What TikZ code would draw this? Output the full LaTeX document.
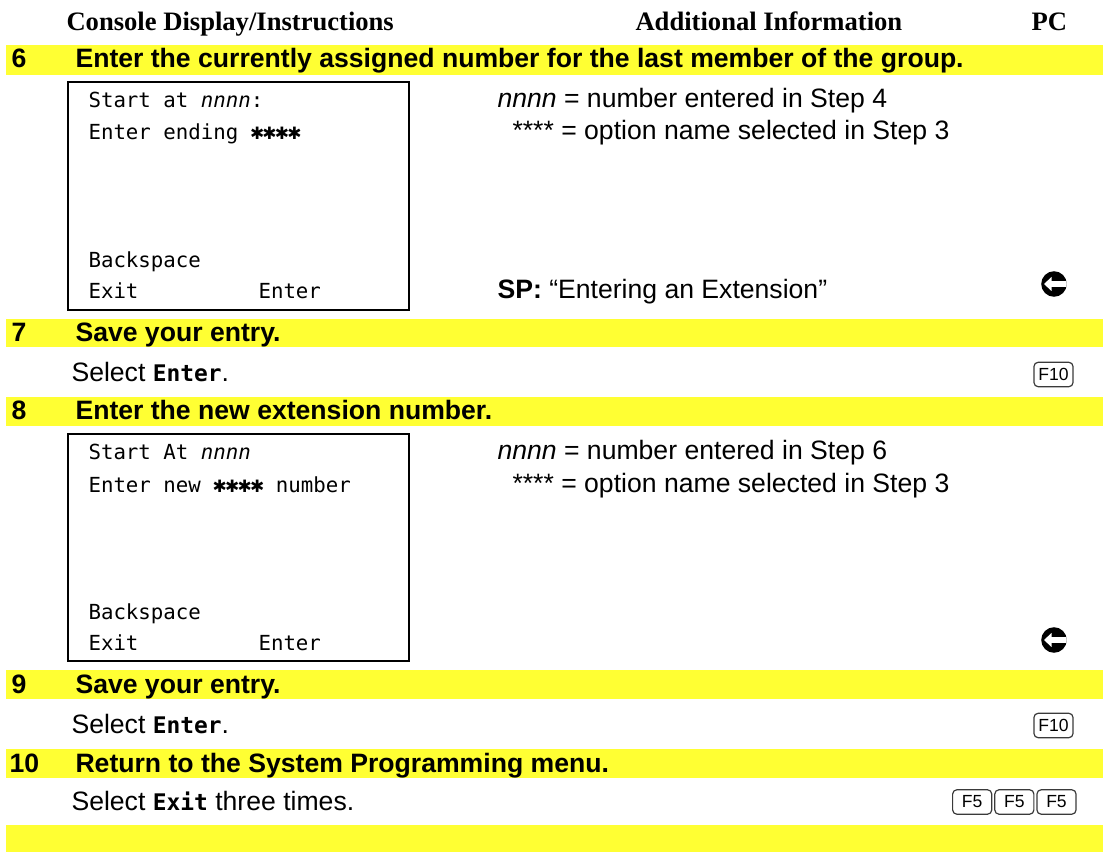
\documentclass[tikz,border=0pt]{standalone}
\usepackage{fontspec}
\setmainfont{Liberation Sans}
\newfontfamily\hdrfont{Liberation Serif}
\newfontfamily\lcdfont{DejaVu Sans Mono}
\newfontfamily\symfont{DejaVu Sans}
\definecolor{cBar}{HTML}{FFFF33}
\definecolor{cKey}{HTML}{3A3A3A}
\usetikzlibrary{positioning}

% bold display text used inside running lines
\newcommand{\lcdb}[1]{{\lcdfont\bfseries\fontsize{8.6}{9}\selectfont #1}}
% one display star, kept to the cell width of the display font
\newcommand{\lstar}{\makebox[0.602em]{\symfont\fontsize{6.4}{7}\selectfont ✱}}
\newcommand{\lstars}{\lstar\lstar\lstar\lstar}

\begin{document}
\begin{tikzpicture}[x=0.376pt,y=-0.376pt,
      bar/.style={fill=cBar},
      hdr/.style={anchor=base west,inner sep=0pt,font=\hdrfont\bfseries\fontsize{10}{12}\selectfont},
      ttl/.style={anchor=base west,inner sep=0pt,font=\bfseries\fontsize{10}{12}\selectfont},
      txt/.style={anchor=base west,inner sep=0pt,font=\fontsize{10}{12}\selectfont},
      lcd/.style={anchor=base west,inner sep=0pt,font=\lcdfont\fontsize{7.8}{9}\selectfont},
      scr/.style={draw,line width=1pt},
      key/.style={draw=cKey,line width=.45pt,rounded corners=1.6pt,inner sep=0pt,
                  minimum width=14.7pt,minimum height=9.2pt,font=\fontsize{6.6}{7}\selectfont},
      cont/.style={circle,fill=black,minimum size=9.6pt,inner sep=0pt,
                   path picture={\fill[white,shift={(path picture bounding box.center)}]
                     (-10,0) -- (-2.5,-7) -- (-2.5,-2.8) -- (15,-2.8) -- (15,2.8)
                     -- (-2.5,2.8) -- (-2.5,7) -- cycle;}}]
    \useasboundingbox (0,0) rectangle (1103,852);

    % yellow step bars
    \fill[bar] (6,45) rectangle (1103,75);
    \fill[bar] (6,319) rectangle (1103,347);
    \fill[bar] (6,397) rectangle (1103,426);
    \fill[bar] (6,670) rectangle (1103,699);
    \fill[bar] (6,749) rectangle (1103,778);
    \fill[bar] (6,825) rectangle (1103,852);

    % column heads
    \node[hdr] (hCons) at (66,31) {Console Display/Instructions};
    \node[hdr] (hInfo) at (635,31) {Additional Information};
    \node[hdr] (hPC) at (1031,31) {PC};

    % step 6
    \node[ttl] (n6) at (11,68) {6};
    \node[ttl] (t6) at (75,68) {Enter the currently assigned number for the last member of the group.};
    \draw[scr] (68,82) rectangle (409,310);
    \node[lcd] (s6a) at (88,108) {Start at \textit{nnnn}:};
    \node[lcd] (s6b) at (88,140) {Enter ending \lstars};
    \node[lcd] (s6c) at (88,268) {Backspace};
    \node[lcd] (s6d) at (88,299) {Exit};
    \node[lcd] (s6e) at (258,299) {Enter};
    \node[txt] (i6a) at (497,108) {\textit{nnnn} = number entered in Step 4};
    \node[txt] (i6b) at (512,140) {**** = option name selected in Step 3};
    \node[txt] (i6c) at (497,299) {\textbf{SP:} “Entering an Extension”};
    \node[cont] (c6) at (1054,284) {};

    % step 7
    \node[ttl] (n7) at (11,342) {7};
    \node[ttl] (t7) at (75,342) {Save your entry.};
    \node[txt] (sel7) at (71,382) {Select \lcdb{Enter}.};
    \node[key] (k7) at (1053.5,374.5) {F10};

    % step 8
    \node[ttl] (n8) at (11,420) {8};
    \node[ttl] (t8) at (75,420) {Enter the new extension number.};
    \draw[scr] (68,434) rectangle (409,661);
    \node[lcd] (s8a) at (88,460) {Start At \textit{nnnn}};
    \node[lcd] (s8b) at (88,492) {Enter new \lstars{} number};
    \node[lcd] (s8c) at (88,620) {Backspace};
    \node[lcd] (s8d) at (88,651) {Exit};
    \node[lcd] (s8e) at (258,651) {Enter};
    \node[txt] (i8a) at (497,460) {\textit{nnnn} = number entered in Step 6};
    \node[txt] (i8b) at (512,492) {**** = option name selected in Step 3};
    \node[cont] (c8) at (1054,640) {};

    % step 9
    \node[ttl] (n9) at (11,693) {9};
    \node[ttl] (t9) at (75,693) {Save your entry.};
    \node[txt] (sel9) at (71,733) {Select \lcdb{Enter}.};
    \node[key] (k9) at (1053.5,725.5) {F10};

    % step 10
    \node[ttl] (n10) at (9,772) {10};
    \node[ttl] (t10) at (75,772) {Return to the System Programming menu.};
    \node[txt] (sel10) at (71,810) {Select \lcdb{Exit} three times.};
    \node[key] (k10c) at (1056.5,802) {F5};
    \node[key,left=.7pt of k10c] (k10b) {F5};
    \node[key,left=.7pt of k10b] (k10a) {F5};
\end{tikzpicture}
\end{document}
